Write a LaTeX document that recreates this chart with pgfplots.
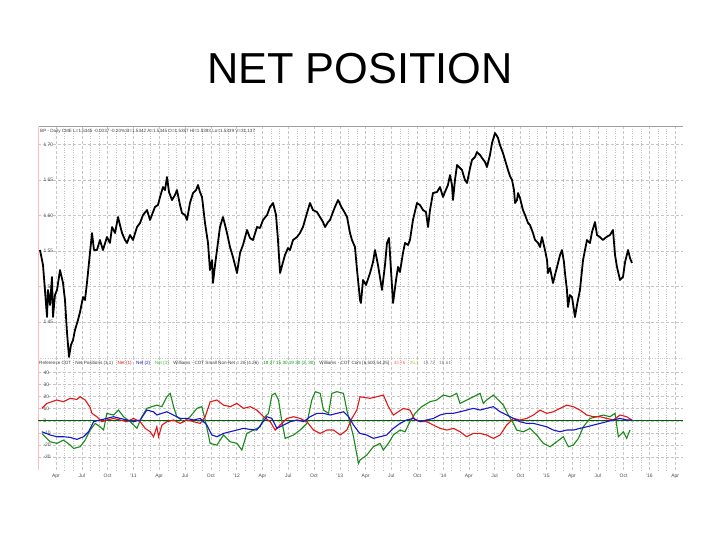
\documentclass[border=0pt]{standalone}
\usepackage{fontspec}
\setmainfont{Liberation Sans}
\usepackage{pgfplots}
\pgfplotsset{compat=1.18}

\definecolor{cotred}{RGB}{228,22,22}
\definecolor{cotgreen}{RGB}{24,138,24}
\definecolor{cotblue}{RGB}{22,22,205}
\definecolor{zeroline}{RGB}{0,95,0}

% price (CME futures, daily close), year vs. price
\pgfplotstableread{
x y
2010.095 1.5514
2010.124 1.5303
2010.143 1.4951
2010.163 1.4570
2010.172 1.4951
2010.192 1.4739
2010.211 1.5134
2010.221 1.4570
2010.240 1.4880
2010.260 1.4951
2010.289 1.5232
2010.318 1.5049
2010.337 1.4810
2010.357 1.4345
2010.376 1.4007
2010.395 1.4176
2010.415 1.4246
2010.434 1.4387
2010.463 1.4528
2010.483 1.4640
2010.512 1.4852
2010.531 1.4810
2010.550 1.5049
2010.579 1.5472
2010.599 1.5753
2010.618 1.5514
2010.647 1.5514
2010.676 1.5655
2010.705 1.5514
2010.744 1.5697
2010.773 1.5613
2010.793 1.5838
2010.822 1.5753
2010.851 1.5979
2010.870 1.5866
2010.890 1.5753
2010.919 1.5655
2010.938 1.5613
2010.967 1.5725
2010.996 1.5655
2011.035 1.5838
2011.064 1.5894
2011.093 1.6007
2011.132 1.6077
2011.161 1.5937
2011.190 1.6049
2011.209 1.6120
2011.238 1.6148
2011.258 1.6261
2011.287 1.6401
2011.306 1.6359
2011.326 1.6542
2011.345 1.6331
2011.374 1.6218
2011.403 1.6289
2011.422 1.6359
2011.452 1.6148
2011.471 1.6035
2011.500 1.6007
2011.519 1.5937
2011.548 1.6176
2011.578 1.6317
2011.607 1.6359
2011.626 1.6430
2011.645 1.6331
2011.665 1.6261
2011.694 1.5894
2011.723 1.5613
2011.742 1.5232
2011.762 1.5373
2011.771 1.5049
2011.791 1.5303
2011.810 1.5514
2011.839 1.5838
2011.868 1.5979
2011.888 1.5866
2011.907 1.5753
2011.936 1.5556
2011.965 1.5415
2012.004 1.5190
2012.033 1.5472
2012.062 1.5585
2012.101 1.5796
2012.130 1.5683
2012.159 1.5655
2012.198 1.5838
2012.227 1.5824
2012.256 1.5937
2012.295 1.6007
2012.324 1.6120
2012.353 1.6176
2012.382 1.6007
2012.401 1.5655
2012.421 1.5190
2012.450 1.5345
2012.469 1.5444
2012.498 1.5542
2012.517 1.5514
2012.547 1.5655
2012.585 1.5697
2012.614 1.5753
2012.643 1.5838
2012.682 1.6035
2012.711 1.6176
2012.740 1.6077
2012.779 1.6049
2012.808 1.5979
2012.837 1.5908
2012.857 1.5838
2012.886 1.5908
2012.905 1.5937
2012.934 1.6049
2012.953 1.6120
2012.983 1.6218
2013.021 1.6106
2013.050 1.6035
2013.070 1.5979
2013.099 1.5753
2013.118 1.5655
2013.147 1.5556
2013.167 1.5232
2013.196 1.4810
2013.205 1.4768
2013.225 1.5092
2013.254 1.5021
2013.293 1.5190
2013.322 1.5345
2013.341 1.5514
2013.370 1.5303
2013.409 1.4951
2013.438 1.5303
2013.457 1.5613
2013.477 1.5683
2013.496 1.5232
2013.516 1.4768
2013.545 1.5092
2013.564 1.5275
2013.583 1.5204
2013.612 1.5472
2013.632 1.5613
2013.661 1.5585
2013.680 1.5655
2013.709 1.5937
2013.748 1.6176
2013.777 1.6148
2013.806 1.6077
2013.835 1.6049
2013.855 1.5838
2013.874 1.6077
2013.903 1.6317
2013.942 1.6331
2013.971 1.6401
2014.000 1.6261
2014.019 1.6331
2014.048 1.6430
2014.068 1.6570
2014.087 1.6430
2014.097 1.6218
2014.116 1.6500
2014.136 1.6711
2014.165 1.6669
2014.184 1.6641
2014.213 1.6500
2014.233 1.6458
2014.262 1.6669
2014.281 1.6782
2014.310 1.6824
2014.329 1.6894
2014.359 1.6852
2014.378 1.6810
2014.407 1.6754
2014.426 1.6683
2014.455 1.6852
2014.475 1.7021
2014.504 1.7162
2014.523 1.7120
2014.533 1.7092
2014.552 1.6993
2014.581 1.6880
2014.601 1.6782
2014.630 1.6641
2014.649 1.6556
2014.669 1.6500
2014.688 1.6359
2014.698 1.6176
2014.717 1.6218
2014.727 1.6317
2014.746 1.6247
2014.775 1.6077
2014.795 1.6007
2014.824 1.5894
2014.843 1.5866
2014.872 1.5753
2014.892 1.5655
2014.921 1.5613
2014.940 1.5556
2014.959 1.5697
2014.988 1.5514
2015.008 1.5373
2015.017 1.5190
2015.037 1.5261
2015.066 1.5049
2015.085 1.5162
2015.105 1.5275
2015.134 1.5444
2015.153 1.5514
2015.172 1.5345
2015.182 1.5190
2015.201 1.4951
2015.211 1.4711
2015.230 1.4880
2015.250 1.4852
2015.269 1.4669
2015.279 1.4570
2015.298 1.4739
2015.327 1.4951
2015.357 1.5373
2015.376 1.5514
2015.395 1.5655
2015.424 1.5613
2015.444 1.5768
2015.473 1.5908
2015.492 1.5725
2015.521 1.5697
2015.550 1.5655
2015.570 1.5683
2015.599 1.5711
2015.618 1.5725
2015.647 1.5796
2015.667 1.5444
2015.686 1.5275
2015.715 1.5092
2015.744 1.5134
2015.764 1.5345
2015.793 1.5514
2015.812 1.5401
2015.831 1.5331
}\price

\pgfplotsset{
  panel/.style={
    scale only axis, width=645bp,
    xmin=2010.0756, xmax=2016.3256,
    xtick={2010.25,2010.5,2010.75,2011,2011.25,2011.5,2011.75,2012,2012.25,2012.5,2012.75,2013,2013.25,2013.5,2013.75,2014,2014.25,2014.5,2014.75,2015,2015.25,2015.5,2015.75,2016,2016.25},
    minor x tick num=2,
    grid=both,
    major grid style={densely dashed, gray!45, line width=0.35pt},
    minor grid style={dotted, gray!50, line width=0.35pt},
    axis line style={draw=none},
    tick style={draw=none},
    tick label style={font=\fontsize{5}{6}\selectfont, text=black!70},
    xticklabel style={text height=4bp, text depth=1bp},
    yticklabel style={anchor=west, xshift=2bp},
    /pgf/number format/assume math mode=true,
    clip=false,
  }
}

\begin{document}
\begin{tikzpicture}
\useasboundingbox (0,0) rectangle (720bp,540bp);
\fill[white] (0,0) rectangle (720bp,540bp);

\node[font=\fontsize{43.5}{50}\selectfont] at (360bp,471.5bp) {NET POSITION};

% upper panel: price
\begin{axis}[panel, at={(38bp,181.5bp)}, anchor=south west, height=232.5bp,
    ymin=1.3986, ymax=1.7261,
    ytick={1.45,1.5,1.55,1.6,1.65,1.7},
    yticklabels={1.45,1.50,1.55,1.60,1.65,1.70},
    xticklabels={}]
\draw[gray!75, line width=0.8pt] (rel axis cs:0,1) -- (rel axis cs:1,1);
\draw[red!25, line width=0.6pt] (rel axis cs:0,0) -- (rel axis cs:0,1);
\draw[gray!40, dotted] (rel axis cs:0,0) -- (rel axis cs:1,0);
\node[anchor=north west, inner sep=0pt, font=\fontsize{4.6}{5}\selectfont, text=black!75]
  at ([xshift=2bp,yshift=-2.5bp]rel axis cs:0,1)
  {BP - Daily CME L=1.5345 -0.0037 -0.20\% B=1.5342 A=1.5345 O=1.5387 Hi=1.5393 Lo=1.5339 V=31,137};
\addplot[black, line width=1.8pt, line join=round, no marks] table[x=x, y=y] {\price};
\end{axis}

% lower panel: COT net positions
\begin{axis}[panel, at={(38bp,70bp)}, anchor=south west, height=111.5bp,
    ymin=-40.7, ymax=51.4,
    ytick={-30,-20,-10,0,10,20,30,40},
    xticklabels={Apr,Jul,Oct,'11,Apr,Jul,Oct,'12,Apr,Jul,Oct,'13,Apr,Jul,Oct,'14,Apr,Jul,Oct,'15,Apr,Jul,Oct,'16,Apr}]
\draw[red!25, line width=0.6pt] (rel axis cs:0,0) -- (rel axis cs:0,1);
\node[anchor=north west, inner sep=0pt, font=\fontsize{4.6}{5}\selectfont, text=black!75]
  at ([xshift=1bp,yshift=-2bp]rel axis cs:0,1)
  {Reference COT - Net Positions (3,1)\quad\textcolor{cotred}{Net (1)}\quad\textcolor{cotblue}{Net (2)}\quad\textcolor{green!50!gray}{Net (3)}\quad Williams - COT Small Non-Net = 26 (4.26)\quad\textcolor{green!60!black}{18 27 15 30 19 30 (2, 30)}\quad Williams - COT Com [6,500,54,25]\quad\textcolor{red!60}{42.76}\quad\textcolor{yellow!70!black}{25.1}\quad\textcolor{gray}{19.72}\quad\textcolor{gray}{18.61}};
\addplot[zeroline, line width=0.9pt, no marks] coordinates {(2010.0756,0) (2016.3256,0)};

\addplot[cotgreen, line width=1.1pt, no marks] coordinates {
(2010.113,-10.5) (2010.194,-17.4) (2010.258,-18.7) (2010.323,-16.0) (2010.388,-20.1)
(2010.420,-22.9) (2010.484,-21.5) (2010.533,-16.0) (2010.581,-7.7) (2010.630,-2.2)
(2010.678,-5.0) (2010.711,-7.7) (2010.743,6.1) (2010.807,4.7) (2010.856,8.8)
(2010.904,3.3) (2010.969,-0.8) (2011.034,-6.3) (2011.082,3.3) (2011.130,10.2)
(2011.179,11.6) (2011.227,12.9) (2011.276,11.6) (2011.324,19.8) (2011.357,22.6)
(2011.389,11.6) (2011.421,3.3) (2011.486,-0.8) (2011.550,3.3) (2011.615,10.2)
(2011.663,11.6) (2011.696,0.6) (2011.744,-18.7) (2011.809,-20.1) (2011.873,-11.8)
(2011.938,-17.4) (2012.003,-18.7) (2012.051,-24.2) (2012.099,-10.5) (2012.164,-7.7)
(2012.229,-5.0) (2012.261,1.9) (2012.309,6.1) (2012.342,21.2) (2012.374,22.6)
(2012.406,17.1) (2012.439,-0.8) (2012.471,-14.6) (2012.552,-11.8) (2012.616,-7.7)
(2012.681,-2.2) (2012.729,17.1) (2012.762,24.0) (2012.810,22.6) (2012.842,8.8)
(2012.891,6.1) (2012.923,22.6) (2012.972,24.0) (2013.036,22.6) (2013.068,8.8)
(2013.101,-2.2) (2013.133,-13.2) (2013.181,-35.3) (2013.196,-32.5) (2013.261,-28.4)
(2013.325,-21.5) (2013.390,-18.7) (2013.422,-24.2) (2013.471,-18.7) (2013.519,-11.8)
(2013.584,-7.7) (2013.632,-9.1) (2013.680,-0.8) (2013.729,6.1) (2013.794,11.6)
(2013.874,15.7) (2013.939,17.1) (2014.003,21.2) (2014.068,19.8) (2014.133,22.6)
(2014.165,14.3) (2014.230,17.1) (2014.294,19.8) (2014.359,22.6) (2014.391,14.3)
(2014.423,17.1) (2014.488,21.2) (2014.536,17.1) (2014.585,12.9) (2014.633,4.7)
(2014.682,-2.2) (2014.714,-7.7) (2014.779,-9.1) (2014.843,-6.3) (2014.908,-11.8)
(2014.972,-18.7) (2015.037,-21.5) (2015.102,-17.4) (2015.166,-13.2) (2015.215,-21.5)
(2015.263,-20.1) (2015.312,-14.6) (2015.360,-5.0) (2015.425,1.9) (2015.489,3.3)
(2015.554,4.7) (2015.618,3.3) (2015.667,6.1) (2015.699,-13.2) (2015.748,-9.1)
(2015.780,-14.6) (2015.812,-7.7)
};

\addplot[cotred, line width=1.1pt, no marks] coordinates {
(2010.113,10.2) (2010.161,14.3) (2010.258,17.1) (2010.323,15.7) (2010.388,18.5)
(2010.452,17.6) (2010.484,19.8) (2010.533,17.1) (2010.581,11.0) (2010.598,6.1)
(2010.646,3.3) (2010.694,-0.8) (2010.743,0.6) (2010.807,1.9) (2010.872,0.6)
(2010.937,-0.8) (2011.001,1.9) (2011.066,-0.8) (2011.114,-6.3) (2011.163,-9.1)
(2011.195,-13.2) (2011.227,-5.0) (2011.244,-13.2) (2011.276,-3.6) (2011.324,-0.8)
(2011.389,0.6) (2011.453,-2.2) (2011.518,0.6) (2011.583,-0.8) (2011.647,-2.2)
(2011.696,3.3) (2011.744,15.7) (2011.809,17.1) (2011.873,12.9) (2011.938,11.6)
(2012.003,14.3) (2012.067,10.2) (2012.132,11.6) (2012.196,8.8) (2012.261,3.3)
(2012.326,-0.8) (2012.374,-7.7) (2012.422,-3.6) (2012.487,1.9) (2012.552,3.3)
(2012.616,1.9) (2012.681,-0.8) (2012.745,-7.7) (2012.810,-10.5) (2012.875,-7.7)
(2012.939,-7.7) (2013.004,-11.8) (2013.068,-7.7) (2013.117,1.9) (2013.165,8.8)
(2013.196,19.8) (2013.293,18.5) (2013.357,19.8) (2013.422,21.2) (2013.471,11.6)
(2013.519,4.7) (2013.567,7.4) (2013.616,10.2) (2013.680,8.8) (2013.729,0.6)
(2013.794,-0.8) (2013.842,-0.8) (2013.907,-3.6) (2013.971,-6.3) (2014.036,-7.7)
(2014.100,-6.3) (2014.165,-9.1) (2014.230,-13.2) (2014.294,-10.5) (2014.359,-10.5)
(2014.423,-11.8) (2014.488,-14.6) (2014.553,-11.8) (2014.617,-3.6) (2014.682,1.9)
(2014.746,0.6) (2014.811,1.9) (2014.876,4.7) (2014.940,8.8) (2015.005,6.1)
(2015.069,7.4) (2015.134,10.2) (2015.198,12.9) (2015.263,11.6) (2015.328,8.8)
(2015.393,4.7) (2015.457,3.3) (2015.522,3.3) (2015.586,1.9) (2015.651,0.6)
(2015.715,4.7) (2015.780,3.3) (2015.828,0.6)
};

\addplot[cotblue, line width=1.1pt, no marks] coordinates {
(2010.113,-9.1) (2010.194,-11.8) (2010.258,-13.2) (2010.323,-13.2) (2010.388,-13.8)
(2010.452,-15.4) (2010.517,-13.2) (2010.565,-9.1) (2010.614,-0.8) (2010.678,0.6)
(2010.743,1.9) (2010.807,3.3) (2010.872,1.9) (2010.937,0.6) (2011.001,-0.8)
(2011.066,0.6) (2011.130,8.8) (2011.195,7.4) (2011.227,4.7) (2011.276,6.1)
(2011.324,7.4) (2011.389,4.7) (2011.453,1.9) (2011.518,1.9) (2011.583,0.6)
(2011.647,1.9) (2011.712,-3.6) (2011.760,-11.8) (2011.809,-13.2) (2011.873,-10.5)
(2011.938,-9.1) (2012.003,-7.7) (2012.067,-6.3) (2012.132,-7.2) (2012.196,-7.7)
(2012.245,-2.2) (2012.293,3.3) (2012.342,1.9) (2012.390,-6.3) (2012.455,-3.6)
(2012.519,-0.8) (2012.584,0.6) (2012.649,-0.8) (2012.713,3.3) (2012.778,6.1)
(2012.842,6.1) (2012.907,4.7) (2012.972,6.1) (2013.036,7.4) (2013.085,3.3)
(2013.133,-3.6) (2013.181,-9.1) (2013.196,-10.5) (2013.261,-11.8) (2013.325,-14.6)
(2013.390,-13.2) (2013.454,-11.8) (2013.519,-6.3) (2013.584,-2.2) (2013.648,0.6)
(2013.713,1.9) (2013.777,-0.8) (2013.842,0.6) (2013.907,1.9) (2013.971,4.7)
(2014.036,6.1) (2014.100,6.1) (2014.165,7.4) (2014.230,8.8) (2014.294,10.2)
(2014.359,8.8) (2014.423,10.2) (2014.488,11.6) (2014.553,7.4) (2014.617,4.7)
(2014.682,1.9) (2014.746,-0.8) (2014.811,-2.2) (2014.876,-2.2) (2014.940,-3.6)
(2015.005,-5.0) (2015.069,-7.7) (2015.134,-9.1) (2015.198,-7.7) (2015.263,-7.7)
(2015.328,-6.3) (2015.393,-5.0) (2015.457,-3.6) (2015.522,-2.2) (2015.586,-0.8)
(2015.651,0.6) (2015.715,1.9) (2015.780,0.6) (2015.828,0.6)
};
\end{axis}
\end{tikzpicture}
\end{document}
